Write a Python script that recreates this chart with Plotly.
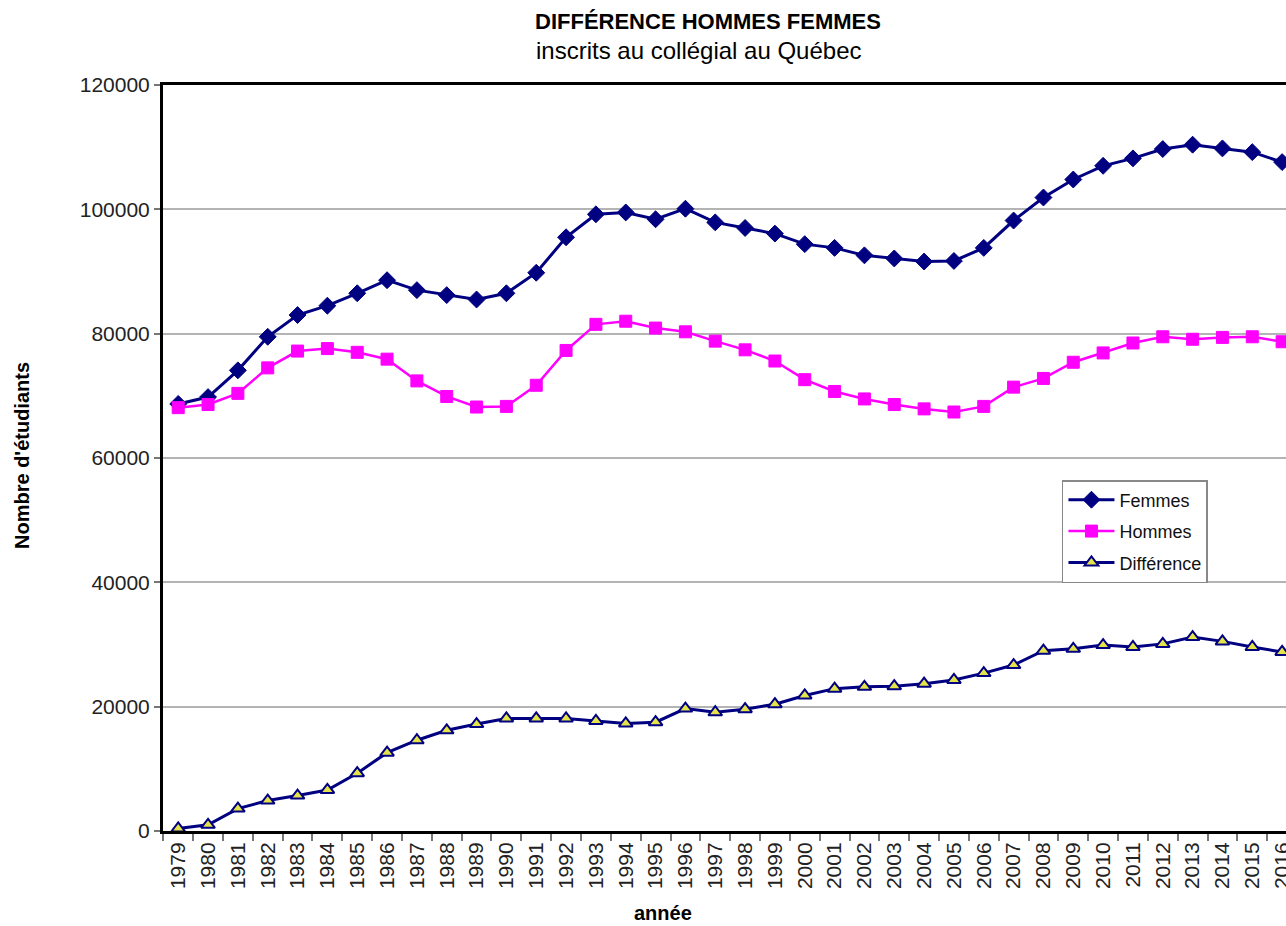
import plotly.graph_objects as go

years = [str(y) for y in range(1979, 2017)]

femmes = [68700, 69800, 74100, 79500, 83000, 84500, 86500, 88600, 87000, 86200,
          85500, 86500, 89800, 95500, 99200, 99500, 98400, 100100, 97900, 97000,
          96100, 94400, 93800, 92600, 92100, 91600, 91700, 93800, 98200, 101900,
          104800, 107000, 108200, 109700, 110400, 109800, 109200, 107600]

hommes = [68100, 68600, 70400, 74500, 77200, 77600, 77000, 75900, 72400, 69900,
          68200, 68300, 71700, 77300, 81500, 82000, 80900, 80300, 78800, 77400,
          75600, 72600, 70700, 69500, 68600, 67900, 67400, 68300, 71400, 72800,
          75400, 76900, 78500, 79500, 79100, 79400, 79500, 78700]

difference = [400, 1000, 3600, 4900, 5700, 6600, 9300, 12600, 14600, 16200,
              17200, 18100, 18100, 18100, 17700, 17300, 17500, 19700, 19100, 19600,
              20400, 21800, 22900, 23200, 23300, 23700, 24300, 25400, 26700, 29000,
              29300, 29900, 29600, 30100, 31200, 30500, 29600, 28800]

y_ticks = [0, 20000, 40000, 60000, 80000, 100000, 120000]

NAVY = "#000080"
FONT = "Liberation Sans, Arial, sans-serif"

fig = go.Figure()
fig.add_trace(go.Scatter(
    x=years, y=femmes, name="Femmes", mode="lines+markers", legendgroup="f",
    line=dict(color=NAVY, width=3),
    marker=dict(symbol="diamond", size=13, color=NAVY, line=dict(color=NAVY, width=1)),
))
fig.add_trace(go.Scatter(
    x=years, y=hommes, name="Hommes", mode="lines+markers", legendgroup="h",
    line=dict(color="#ff00ff", width=2.5),
    marker=dict(symbol="square", size=12, color="#ff00ff", line=dict(color="#ff00ff", width=1)),
))
fig.add_trace(go.Scatter(
    x=years, y=difference, name="Différence", mode="lines+markers", legendgroup="d",
    line=dict(color=NAVY, width=3),
    marker=dict(symbol="triangle-up", size=12, color="#e4e44a", line=dict(color=NAVY, width=2)),
))

fig.update_layout(
    width=1286, height=926,
    margin=dict(l=163, r=0, t=85, b=95),
    paper_bgcolor="white", plot_bgcolor="white",
    font=dict(family=FONT, color="#222222"),
    showlegend=True,
    legend=dict(
        x=0.8005, y=0.4705, xanchor="left", yanchor="top",
        bgcolor="white", bordercolor="#888888", borderwidth=1.5,
        font=dict(size=18, family=FONT, color="#111111"),
        itemwidth=46, tracegroupgap=5,
    ),
    xaxis=dict(
        type="category", range=[-0.51, 37.13], automargin=False,
        showline=True, linecolor="black", linewidth=3, mirror=True,
        ticks="outside", tickson="boundaries", ticklen=7, tickcolor="#777777", tickwidth=1.5,
        tickangle=-90, tickfont=dict(size=21, family=FONT, color="#222222"),
        showgrid=False, zeroline=False,
    ),
    yaxis=dict(
        range=[0, 120000], tickvals=y_ticks, ticktext=[str(v) for v in y_ticks],
        automargin=False,
        showline=True, linecolor="black", linewidth=3,
        ticks="outside", ticklen=6, tickcolor="#777777", tickwidth=1.5,
        tickfont=dict(size=21, family=FONT, color="#222222"),
        showgrid=True, gridcolor="#b4b4b4", gridwidth=2, zeroline=False,
    ),
    annotations=[
        dict(text="<b>DIFFÉRENCE HOMMES FEMMES</b>", xref="paper", yref="paper",
             x=0.4853, y=1.0845, xanchor="center", yanchor="middle", showarrow=False,
             font=dict(size=22, family=FONT, color="black")),
        dict(text="inscrits au collégial au Québec", xref="paper", yref="paper",
             x=0.4773, y=1.0469, xanchor="center", yanchor="middle", showarrow=False,
             font=dict(size=24, family=FONT, color="black")),
        dict(text="<b>Nombre d'étudiants</b>", xref="paper", yref="paper",
             x=-0.1256, y=0.504, xanchor="center", yanchor="middle", showarrow=False,
             textangle=-90, font=dict(size=20, family=FONT, color="black")),
        dict(text="<b>année</b>", xref="paper", yref="paper",
             x=0.445, y=-0.110, xanchor="center", yanchor="middle", showarrow=False,
             font=dict(size=20, family=FONT, color="black")),
    ],
)

fig.write_html("out.html", config={"displayModeBar": False},
               post_script="document.body.style.margin='0';document.body.style.overflow='hidden';")
